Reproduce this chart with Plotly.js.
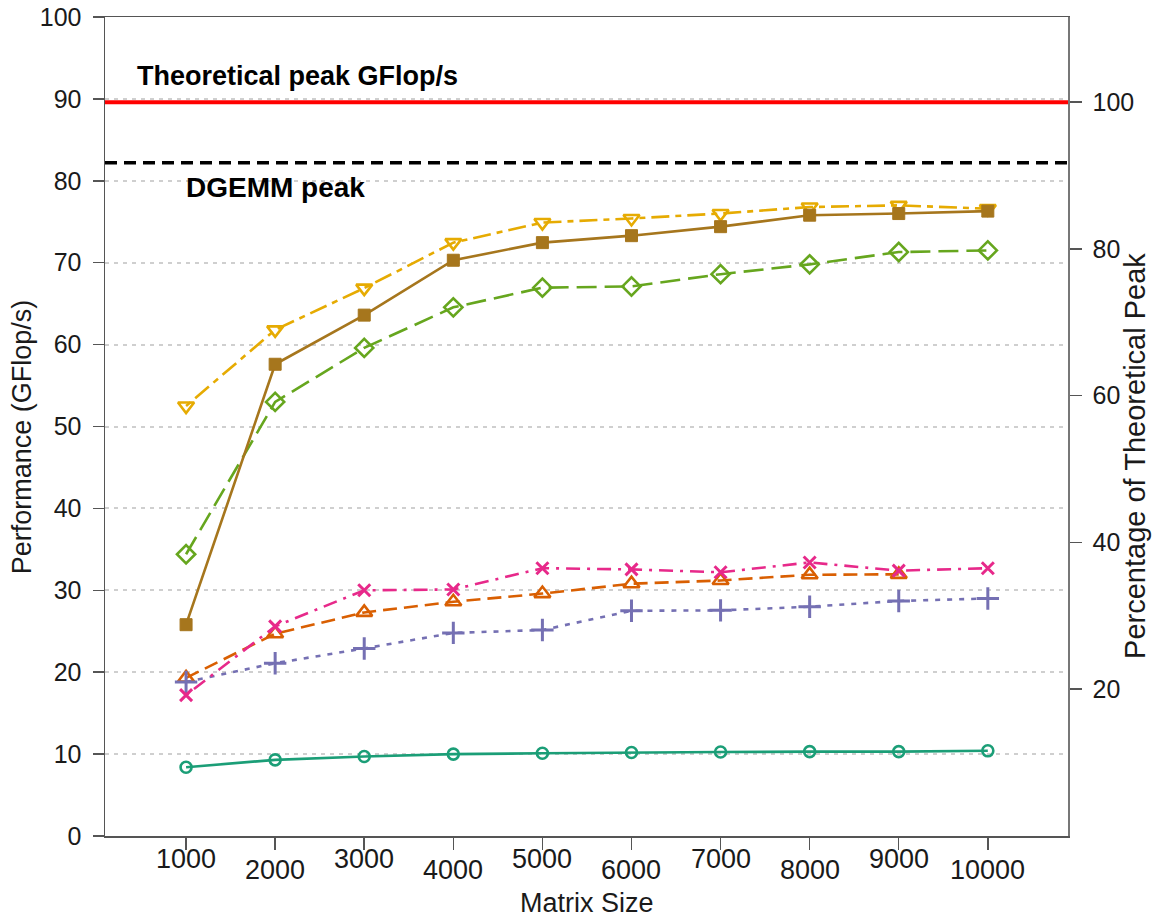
<!DOCTYPE html>
<html>
<head>
<meta charset="utf-8">
<script src="https://cdn.plot.ly/plotly-3.0.1.min.js"></script>
<style>html,body{margin:0;padding:0;background:#fff;}</style>
</head>
<body>
<div id="chart" style="width:1155px;height:918px;"></div>
<script>
// ---- data ----
const matrixSizes = [1000, 2000, 3000, 4000, 5000, 6000, 7000, 8000, 9000, 10000];
const xTickLabels = ['1000', '2000', '3000', '4000', '5000', '6000', '7000', '8000', '9000', '10000'];
const yTickVals = [0, 10, 20, 30, 40, 50, 60, 70, 80, 90, 100];
const pctTickVals = [20, 40, 60, 80, 100];

const tealSeries   = [8.4, 9.3, 9.7, 10.0, 10.1, 10.2, 10.25, 10.3, 10.3, 10.4];
const orangeSeries = [19.3, 24.7, 27.3, 28.6, 29.6, 30.8, 31.2, 31.9, 31.95];
const purpleSeries = [18.8, 21.1, 22.9, 24.8, 25.15, 27.5, 27.55, 28.0, 28.7, 29.0];
const pinkSeries   = [17.2, 25.6, 30.0, 30.1, 32.7, 32.55, 32.2, 33.4, 32.4, 32.7];
const greenSeries  = [34.4, 53.0, 59.6, 64.55, 66.95, 67.1, 68.6, 69.8, 71.3, 71.5];
const yellowSeries = [52.5, 61.8, 66.9, 72.45, 74.9, 75.4, 76.0, 76.8, 77.0, 76.6];
const brownSeries  = [25.8, 57.6, 63.6, 70.3, 72.45, 73.3, 74.4, 75.8, 76.0, 76.3];

const theoreticalPeak = 89.6;
const dgemmPeak = 82.2;

// ---- styling ----
const FONT = 'Liberation Sans, Arial, Helvetica, sans-serif';
const TXT = '#1a1a1a';
const AX = '#555555';

function series(name, y, color, dash, symbol, size, mw) {
  return {
    type: 'scatter', mode: 'lines+markers', name: name,
    x: matrixSizes.slice(0, y.length), y: y,
    line: {color: color, width: 2.6, dash: dash},
    marker: {symbol: symbol, size: size, color: color, line: {color: color, width: mw}},
    showlegend: false, hoverinfo: 'x+y'
  };
}

const traces = [
  series('Series 1', tealSeries,   '#1B9E77', 'solid',              'circle-open',        11, 2.6),
  series('Series 2', orangeSeries, '#D95F02', '14px,7px',           'triangle-up-open',   14, 2.6),
  series('Series 3', purpleSeries, '#7570B3', '5px,7px',            'cross-thin-open',    16, 3),
  series('Series 4', pinkSeries,   '#E7298A', '3px,7px,14px,7px',   'x-thin-open',        12, 3),
  series('Series 5', greenSeries,  '#66A61E', '20px,8px',           'diamond-open',       14, 2.6),
  series('Series 6', yellowSeries, '#E6AB02', '6px,6px,18px,6px',   'triangle-down-open', 14, 2.6),
  series('Series 7', brownSeries,  '#A6761D', 'solid',              'square',             12, 1),
  // invisible trace bound to the right axis so it renders
  {type: 'scatter', mode: 'markers', x: [matrixSizes[0]], y: [50], yaxis: 'y2',
   marker: {opacity: 0}, showlegend: false, hoverinfo: 'skip'}
];

const annotations = [];
xTickLabels.forEach((t, i) => {
  annotations.push({
    text: t, x: matrixSizes[i], xref: 'x', y: 0, yref: 'paper',
    xanchor: 'center', yanchor: 'top', yshift: (i % 2 === 0) ? -6 : -17,
    showarrow: false, font: {family: FONT, size: 27, color: TXT}
  });
});
annotations.push(
  {text: '<b>Theoretical peak GFlop/s</b>', xref: 'paper', x: 0.031, yref: 'y', y: 92.8,
   xanchor: 'left', yanchor: 'middle', showarrow: false,
   font: {family: FONT, size: 27, color: '#000'}},
  {text: '<b>DGEMM peak</b>', xref: 'paper', x: 0.082, yref: 'y', y: 79.2,
   xanchor: 'left', yanchor: 'middle', showarrow: false,
   font: {family: FONT, size: 28, color: '#000'}},
  {text: 'Matrix Size', xref: 'paper', x: 0.5, yref: 'paper', y: -0.061,
   xanchor: 'center', yanchor: 'top', showarrow: false,
   font: {family: FONT, size: 27, color: TXT}},
  {text: 'Performance (GFlop/s)', xref: 'paper', x: -0.0862, yref: 'paper', y: 0.488,
   xanchor: 'center', yanchor: 'middle', textangle: -90, showarrow: false,
   font: {family: FONT, size: 27, color: TXT}},
  {text: 'Percentage of Theoretical Peak', xref: 'paper', x: 1.0695, yref: 'paper', y: 0.464,
   xanchor: 'center', yanchor: 'middle', textangle: -90, showarrow: false,
   font: {family: FONT, size: 29, color: TXT}}
);

const layout = {
  width: 1155, height: 918,
  margin: {l: 105, r: 87, t: 17, b: 82},
  paper_bgcolor: '#ffffff', plot_bgcolor: '#ffffff',
  font: {family: FONT, color: TXT},
  xaxis: {
    range: [90, 10900], tickvals: matrixSizes, ticktext: xTickLabels, showticklabels: false,
    ticks: 'outside', ticklen: 12, tickwidth: 1.5, tickcolor: AX,
    showline: true, linecolor: AX, linewidth: 1.5, mirror: true,
    showgrid: false, zeroline: false
  },
  yaxis: {
    range: [0, 100], tickvals: yTickVals,
    ticks: 'outside', ticklen: 11, tickwidth: 1.5, tickcolor: AX,
    tickfont: {family: FONT, size: 25, color: TXT}, ticklabelstandoff: 6,
    showline: true, linecolor: AX, linewidth: 1.5,
    showgrid: true, gridcolor: '#cfcfcf', gridwidth: 2, griddash: '4px,5px',
    zeroline: false
  },
  yaxis2: {
    overlaying: 'y', side: 'right',
    range: [0, 100 * 100 / theoreticalPeak], tickvals: pctTickVals,
    ticks: 'outside', ticklen: 12, tickwidth: 1.5, tickcolor: AX,
    tickfont: {family: FONT, size: 25, color: TXT}, ticklabelstandoff: 6,
    showline: true, linecolor: '#777777', linewidth: 1.5,
    showgrid: false, zeroline: false
  },
  shapes: [
    {type: 'line', xref: 'paper', x0: 0, x1: 1, yref: 'y', y0: theoreticalPeak, y1: theoreticalPeak,
     line: {color: '#ff0000', width: 4}},
    {type: 'line', xref: 'paper', x0: 0, x1: 1, yref: 'y', y0: dgemmPeak, y1: dgemmPeak,
     line: {color: '#000000', width: 3.5, dash: '12px,7px'}}
  ],
  annotations: annotations
};

Plotly.newPlot('chart', traces, layout, {displayModeBar: false, staticPlot: true});
</script>
</body>
</html>
